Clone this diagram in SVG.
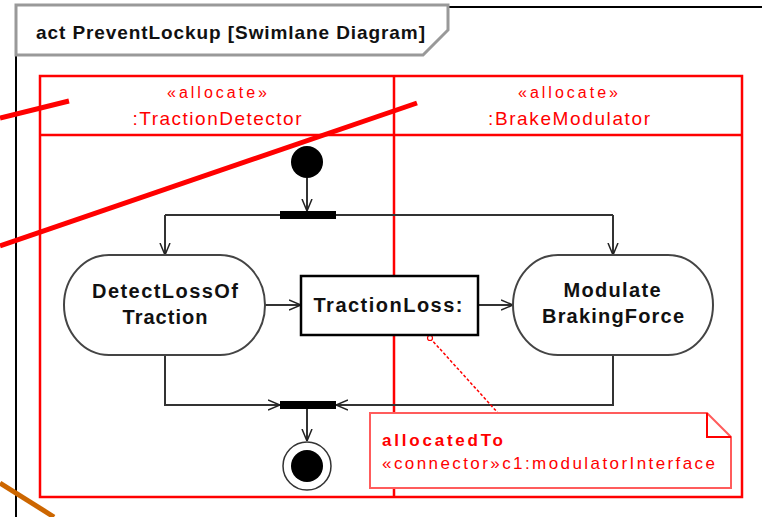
<svg xmlns="http://www.w3.org/2000/svg" width="762" height="517" viewBox="0 0 762 517">
<defs>
<marker id="open" viewBox="0 0 12 12" refX="12" refY="6" markerWidth="12" markerHeight="12" markerUnits="userSpaceOnUse" orient="auto">
<path d="M0,1 L12,6 L0,11" fill="none" stroke="#222" stroke-width="1.5"/>
</marker>
</defs>
<style>
.lane{fill:none;stroke:#ff0000;stroke-width:2.5}
.lt{font-family:"Liberation Sans",Arial,sans-serif;fill:#ff0000;text-anchor:middle}
.nt{font-family:"Liberation Sans",Arial,sans-serif;font-weight:bold;fill:#111;text-anchor:middle;font-size:20px}
.act{fill:#fff;stroke:#444;stroke-width:2}
.cn{fill:none;stroke:#333;stroke-width:2}
.bar{fill:#000}
.diag{stroke:#ff0000;stroke-width:5;stroke-linecap:butt}
</style>
<rect width="762" height="517" fill="#fff"/>
<g id="frame">
<rect x="16" y="7" width="800" height="600" fill="none" stroke="#000" stroke-width="2"/>
<polygon points="16,5 448,5 448,30 423,55 16,55" fill="#fff" stroke="#999" stroke-width="3"/>
<text x="36" y="39" font-family="'Liberation Sans',Arial,sans-serif" font-weight="bold" font-size="19" fill="#111" textLength="389" lengthAdjust="spacing">act PreventLockup [Swimlane Diagram]</text>
</g>
<g id="lanes">
<rect class="lane" x="40" y="76" width="702" height="421"/>
<line class="lane" x1="40" y1="135" x2="742" y2="135"/>
<line class="lane" x1="394" y1="76" x2="394" y2="497"/>
<g id="lane-traction">
<text class="lt" x="217" y="98" font-size="16" textLength="100" lengthAdjust="spacing">«allocate»</text>
<text class="lt" x="217" y="125" font-size="19" textLength="169" lengthAdjust="spacing">:TractionDetector</text>
</g>
<g id="lane-brake">
<text class="lt" x="568" y="98" font-size="16" textLength="100" lengthAdjust="spacing">«allocate»</text>
<text class="lt" x="569" y="125" font-size="19" textLength="162" lengthAdjust="spacing">:BrakeModulator</text>
</g>
</g>
<g id="strokes">
<line class="diag" x1="0" y1="118" x2="69" y2="101"/>
<line class="diag" x1="0" y1="246" x2="417" y2="103"/>
<line x1="0" y1="483" x2="54" y2="517" stroke="#cc6600" stroke-width="5"/>
</g>
<g id="connectors">
<line class="cn" x1="307" y1="178" x2="307" y2="211" marker-end="url(#open)"/>
<path class="cn" d="M165,215 H613"/>
<path class="cn" d="M165,215 V255" marker-end="url(#open)"/>
<path class="cn" d="M613,215 V255" marker-end="url(#open)"/>
<line class="cn" x1="265" y1="305" x2="301" y2="305" marker-end="url(#open)"/>
<line class="cn" x1="478" y1="305" x2="513" y2="305" marker-end="url(#open)"/>
<path class="cn" d="M165,355 V405 H280" marker-end="url(#open)"/>
<path class="cn" d="M613,355 V405 H336" marker-end="url(#open)"/>
<line class="cn" x1="307" y1="409" x2="307" y2="441" marker-end="url(#open)"/>
<line x1="430" y1="338" x2="498" y2="413" stroke="#ff0000" stroke-width="1.5" stroke-dasharray="3,2"/>
<circle cx="430" cy="338" r="2.5" fill="#fff" stroke="#ff0000" stroke-width="1.2"/>
</g>
<g id="initial">
<circle cx="307" cy="162" r="16" fill="#000"/>
</g>
<g id="fork">
<rect class="bar" x="280" y="211" width="56" height="8"/>
</g>
<g id="detect">
<rect class="act" x="64" y="255" width="201" height="100" rx="45" ry="50"/>
<text class="nt" x="165" y="298" textLength="146" lengthAdjust="spacing">DetectLossOf</text>
<text class="nt" x="165" y="324" textLength="85" lengthAdjust="spacing">Traction</text>
</g>
<g id="tractionloss">
<rect x="301" y="276" width="177" height="59" fill="#fff" stroke="#000" stroke-width="2.5"/>
<text class="nt" x="388" y="312" textLength="149" lengthAdjust="spacing">TractionLoss:</text>
</g>
<g id="modulate">
<rect class="act" x="513" y="255" width="200" height="100" rx="45" ry="50"/>
<text class="nt" x="612" y="297" textLength="97" lengthAdjust="spacing">Modulate</text>
<text class="nt" x="613" y="323" textLength="142" lengthAdjust="spacing">BrakingForce</text>
</g>
<g id="join">
<rect class="bar" x="280" y="401" width="56" height="8"/>
</g>
<g id="final">
<circle cx="307" cy="466" r="24" fill="#fff" stroke="#333" stroke-width="1.5"/>
<circle cx="307" cy="466" r="16" fill="#000"/>
</g>
<g id="note">
<path d="M370,413 H707 L731,437 V488 H370 Z" fill="#fff" stroke="#ff5c5c" stroke-width="2"/>
<path d="M707,413 V437 H731" fill="none" stroke="#ff0000" stroke-width="2"/>
<text x="382" y="446" font-family="'Liberation Sans',Arial,sans-serif" font-weight="bold" font-size="17" fill="#ff0000" textLength="121" lengthAdjust="spacing">allocatedTo</text>
<text x="382" y="469" font-family="'Liberation Sans',Arial,sans-serif" font-size="17" fill="#ff0000" textLength="333" lengthAdjust="spacing">«connector»c1:modulatorInterface</text>
</g>
</svg>
